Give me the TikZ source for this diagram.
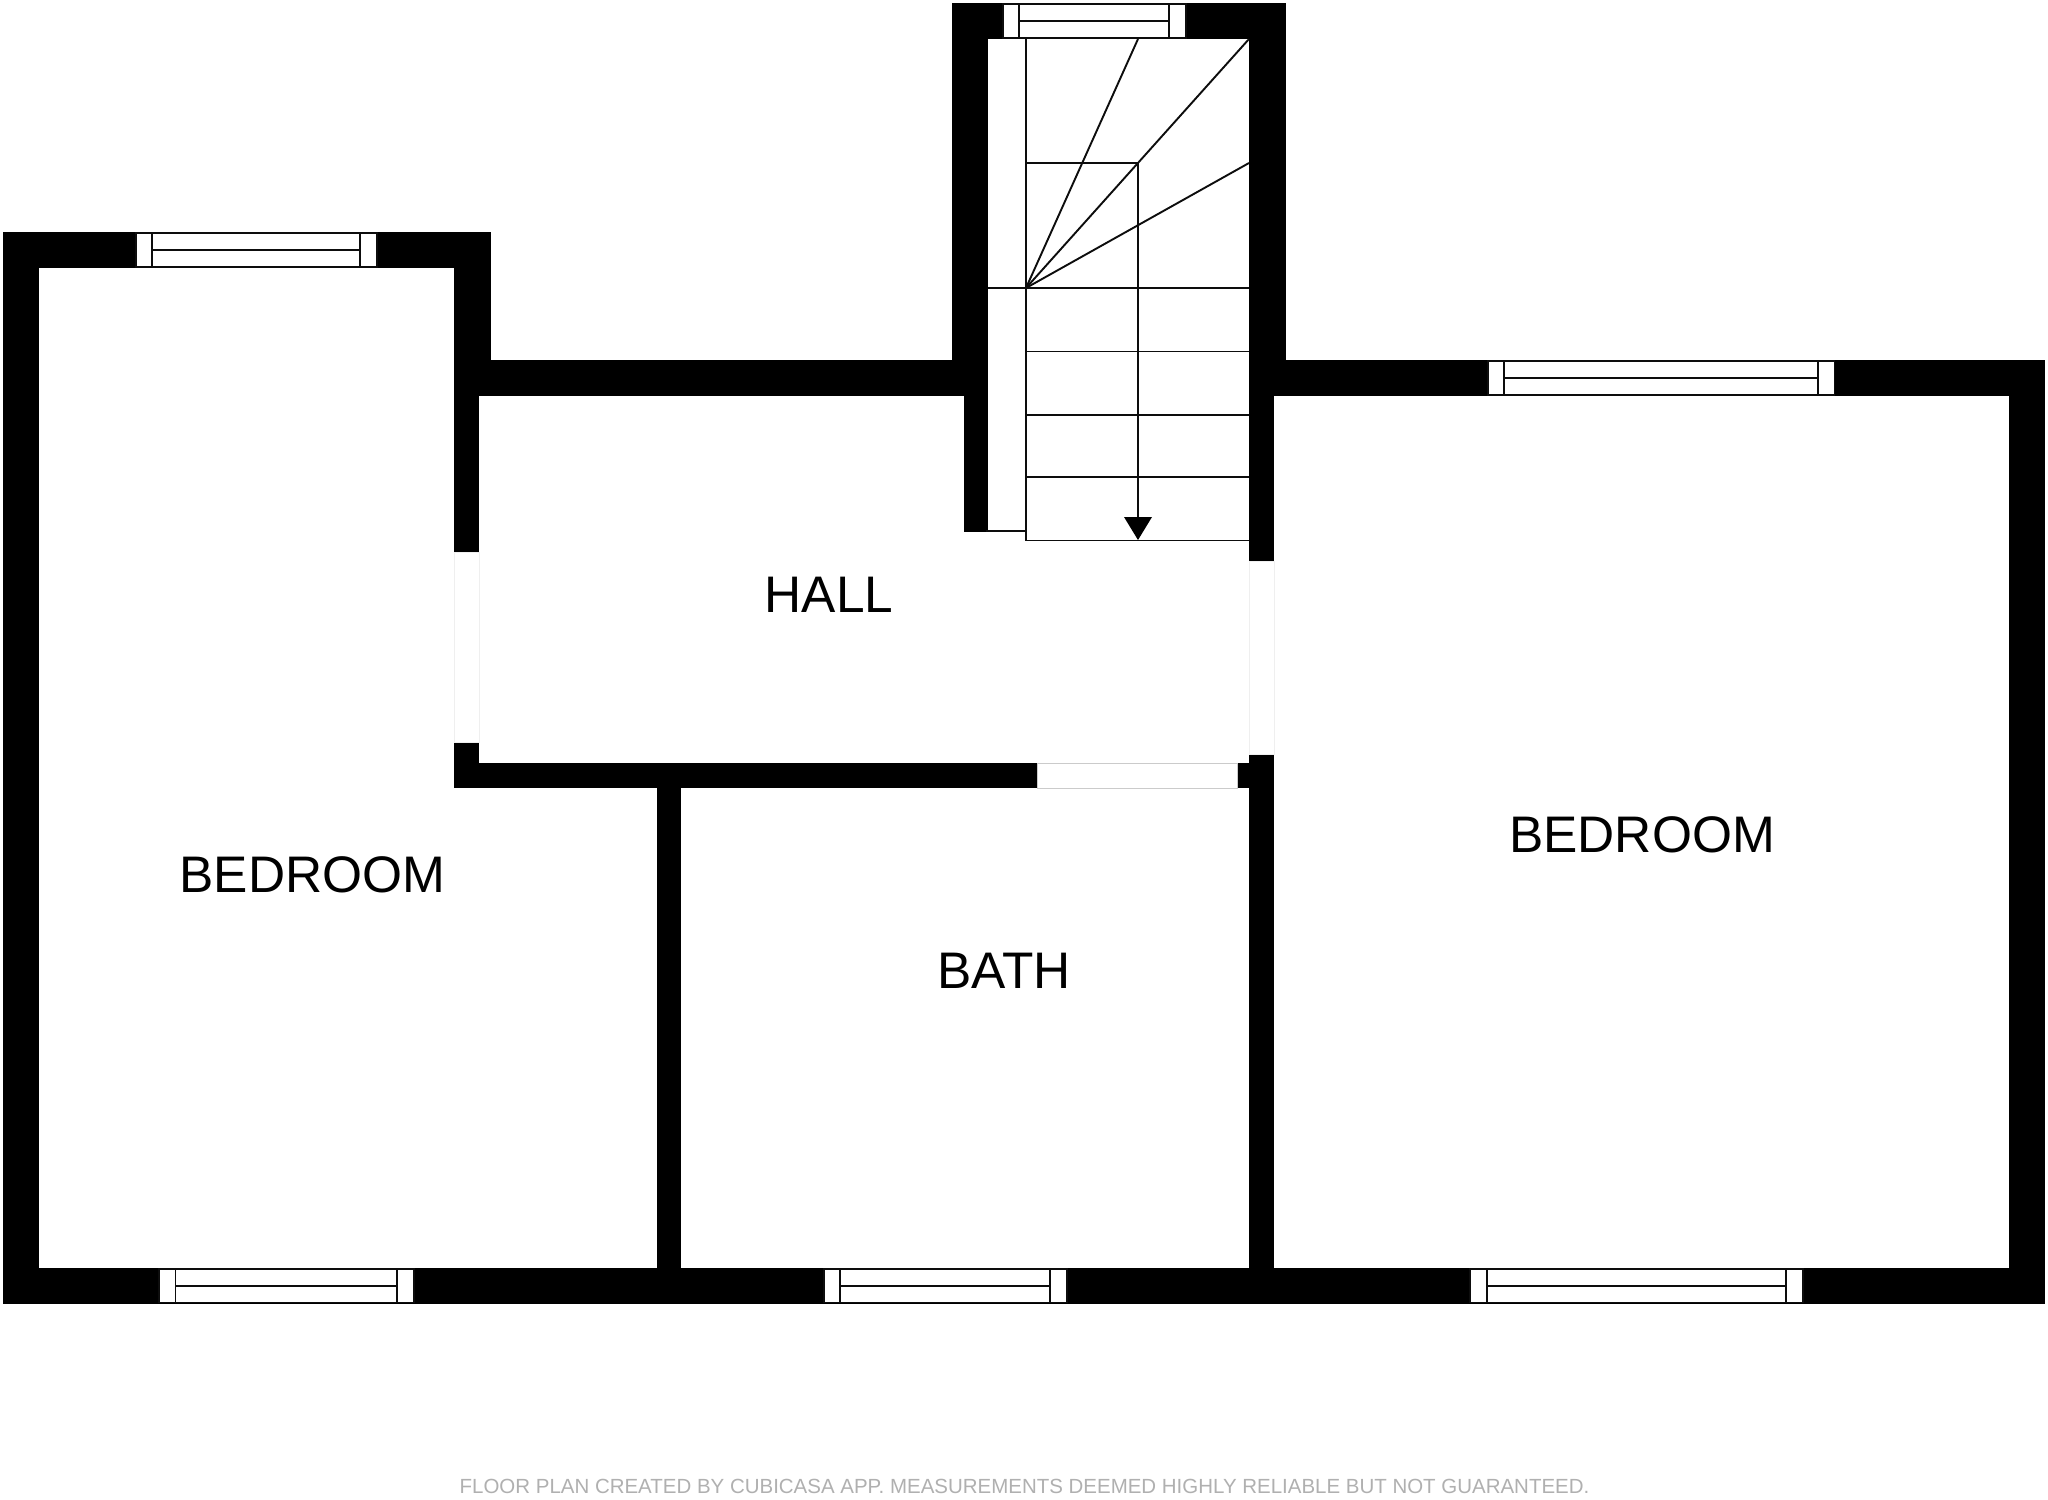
\documentclass[tikz,border=0pt]{standalone}
\usepackage{fontspec}
\setmainfont{Liberation Sans}
\tikzset{
  x=1bp,y=-1bp,
  wall/.style={fill=black,draw=none},
  opening/.style={fill=white,draw=gapline,line width=0.8bp},
  ink/.style={draw=black!95,line width=1.9bp},
  glass/.style={fill=white,draw=black!95,line width=1.9bp},
  roomlabel/.style={font=\fontsize{51.6}{52}\selectfont,text=black,inner sep=0pt,anchor=center},
  credit/.style={font=\fontsize{20.55}{21}\selectfont,text=creditgray,inner sep=0pt,anchor=center}
}
\definecolor{gapline}{HTML}{EFEFEF}
\definecolor{creditgray}{HTML}{B0B0B0}
\newcommand{\planwin}[6]{%
  \draw[glass] (#1,#5) rectangle (#4,#6);
  \draw[ink] (#2,#5) -- (#2,#6) (#3,#5) -- (#3,#6)
             (#2,{(#5+#6)/2}) -- (#3,{(#5+#6)/2});
}
\begin{document}
\begin{tikzpicture}
\useasboundingbox (0,0) rectangle (2048,1500);
\fill[white] (0,0) rectangle (2048,1500);
% walls
\fill[wall] (2.5,232) rectangle (39,1303.5);
\fill[wall] (2.5,232) rectangle (491,268);
\fill[wall] (454,232) rectangle (491,396);
\fill[wall] (454,360) rectangle (479,552);
\fill[wall] (454,360) rectangle (988,396);
\fill[wall] (964,360) rectangle (988,532);
\fill[wall] (952,3.5) rectangle (988,396);
\fill[wall] (952,3.5) rectangle (1286,39);
\fill[wall] (1249,3.5) rectangle (1286,396);
\fill[wall] (1249,360) rectangle (2045,396);
\fill[wall] (2009,360) rectangle (2045,1303.5);
\fill[wall] (1249,396) rectangle (1274,561);
\fill[wall] (1249,755) rectangle (1274,1303.5);
\fill[wall] (2.5,1267.5) rectangle (2045,1303.5);
\fill[wall] (454,743) rectangle (479,788);
\fill[wall] (454,763) rectangle (1037,788);
\fill[wall] (1237,763) rectangle (1274,788);
\fill[wall] (657,763) rectangle (681,1303.5);
% door openings
\draw[opening] (454.5,552.5) rectangle (479,742.5);
\draw[opening] (1249.5,561.5) rectangle (1274,754.5);
\draw[opening,draw=gapline!85!black] (1037,763) rectangle (1237,788);
% windows
\planwin{1003}{1019}{1169}{1186}{4}{38}
\planwin{136}{152}{360}{377}{233}{267}
\planwin{1488}{1504}{1818}{1834.5}{361}{395}
\planwin{159}{175.5}{397}{414}{1269}{1302.5}
\planwin{824}{840}{1050}{1067}{1269}{1302.5}
\planwin{1470}{1487}{1786}{1803}{1269}{1302.5}
% stairs
\draw[ink] (1026,39) -- (1026,540.5) -- (1249,540.5);
\draw[ink] (988,288) -- (1249,288);
\draw[ink] (1026,351.5) -- (1249,351.5);
\draw[ink] (1026,415) -- (1249,415);
\draw[ink] (1026,477) -- (1249,477);
\draw[ink] (1026,163) -- (1138,163);
\draw[ink] (1138,163) -- (1138,520);
\draw[ink] (1026,288) -- (1138,39);
\draw[ink] (1026,288) -- (1249,39);
\draw[ink] (1026,288) -- (1249,163);
\draw[ink] (986,531) -- (1026,531);
\fill[black] (1124,517) -- (1152,517) -- (1138,540) -- cycle;
% labels
\node[roomlabel] (hall) at (829,595) {HALL};
\node[roomlabel] (bedleft) at (312.5,874.5) {BEDROOM};
\node[roomlabel] (bedright) at (1642,835) {BEDROOM};
\node[roomlabel] (bath) at (1004,971) {BATH};
\node[credit] (note) at (1024.5,1486) {FLOOR PLAN CREATED BY CUBICASA APP. MEASUREMENTS DEEMED HIGHLY RELIABLE BUT NOT GUARANTEED.};
\end{tikzpicture}
\end{document}
